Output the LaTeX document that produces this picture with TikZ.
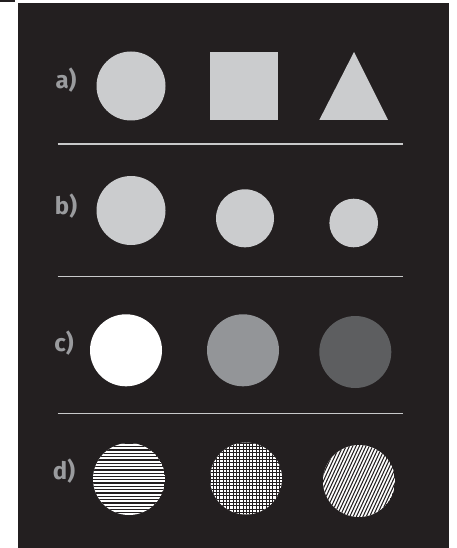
\documentclass[tikz,border=0pt]{standalone}
\usepackage{fontspec}
\setmainfont{Fira Sans}
\definecolor{bg}{HTML}{231F20}
\definecolor{shapegray}{HTML}{CBCCCE}
\definecolor{lblgray}{HTML}{9A9B9E}
\definecolor{rulegray}{HTML}{C8C9CA}
\definecolor{midgray}{HTML}{939598}
\definecolor{darkgray}{HTML}{5D5E60}
\tikzset{
  lblstyle/.style={text=lblgray, font=\fontsize{24}{24}\selectfont\bfseries, inner sep=0pt, anchor=center},
  sepline/.style={draw=rulegray, line width=1.3pt},
  hatchline/.style={draw=bg, line width=1.3pt},
  diagline/.style={draw=bg, line width=1.05pt},
  crossline/.style={draw=bg, line width=1.0pt},
}
\begin{document}
\begin{tikzpicture}[x=1pt,y=-1pt]
\useasboundingbox (0,0) rectangle (457,548);
\fill[bg] (18,3) rectangle (449,548);
\fill[bg] (0,0) rectangle (15,2);

% labels
\node[lblstyle] (la) at (66,80) {a)};
\node[lblstyle] (lb) at (66,206) {b)};
\node[lblstyle] (lc) at (64,343) {c)};
\node[lblstyle] (ld) at (64,471) {d)};

% separator lines
\coordinate (s1a) at (57.7,144); \coordinate (s1b) at (403.3,144);
\coordinate (s2a) at (57.7,276.7); \coordinate (s2b) at (403.3,276.7);
\coordinate (s3a) at (57.7,413.3); \coordinate (s3b) at (403.3,413.3);
\draw[sepline] (s1a) -- (s1b);
\draw[sepline] (s2a) -- (s2b);
\draw[sepline] (s3a) -- (s3b);

% row a
\fill[shapegray] (131,86) circle (34.5);
\fill[shapegray] (210,52) rectangle (278,120);
\fill[shapegray] (319.3,120) -- (354,52) -- (388,120) -- cycle;

% row b
\fill[shapegray] (131,210.5) circle (34.5);
\fill[shapegray] (245,218.3) circle (29);
\fill[shapegray] (353.7,223) circle (24.3);

% row c
\fill[white] (126,350.3) circle (36);
\fill[midgray] (243,350.3) circle (36);
\fill[darkgray] (355.3,352) circle (36);

% row d : horizontal stripes
\begin{scope}
  \clip (129,479) circle (36);
  \fill[white] (129,479) circle (36);
  \foreach \i in {0,...,23} \draw[hatchline] (90,{443.5+3.3*\i}) -- (170,{443.5+3.3*\i});
\end{scope}
% crosshatch
\begin{scope}
  \clip (246,478.5) circle (36);
  \fill[white] (246,478.5) circle (36);
  \foreach \i in {0,...,23} {
    \draw[crossline] (205,{443+3.3*\i}) -- (287,{443+3.3*\i});
    \draw[crossline] ({210+3.3*\i},440) -- ({210+3.3*\i},517);
  }
\end{scope}
% diagonal stripes
\begin{scope}
  \clip (359,481) circle (36);
  \fill[white] (359,481) circle (36);
  \foreach \i in {0,...,38} \draw[diagline] ({297+3.3*\i-19},{481+41}) -- ({297+3.3*\i+19},{481-41});
\end{scope}
\end{tikzpicture}
\end{document}
